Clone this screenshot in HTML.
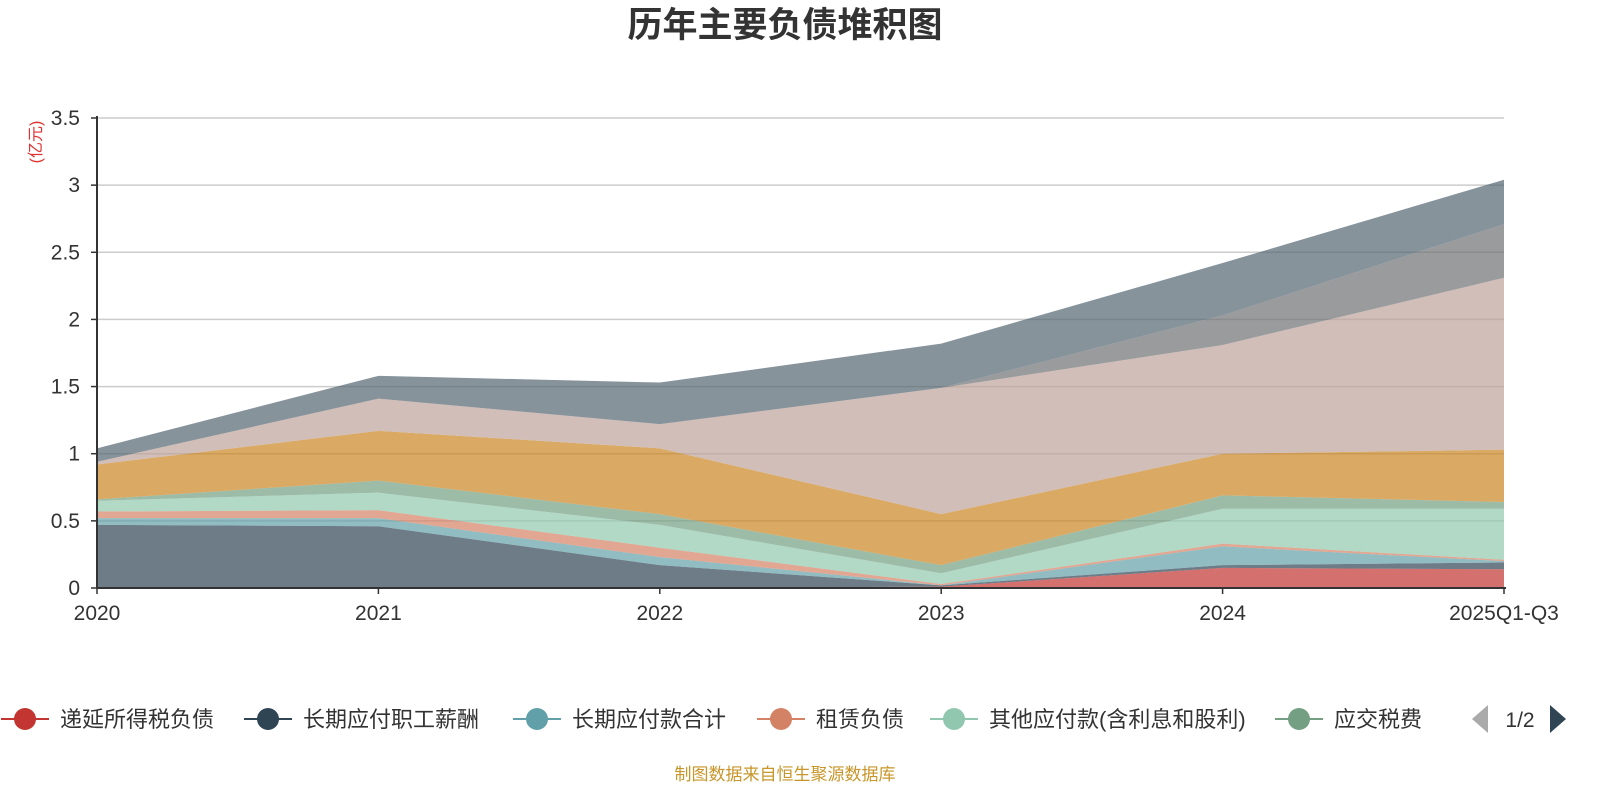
<!DOCTYPE html>
<html><head><meta charset="utf-8"><style>
body{margin:0;background:#fff;width:1600px;height:800px;overflow:hidden;font-family:"Liberation Sans","Noto Sans CJK SC",sans-serif}
</style></head><body>
<svg id="c" width="1600" height="800" xmlns="http://www.w3.org/2000/svg">
<text x="785" y="37" text-anchor="middle" font-size="35" font-weight="bold" fill="#333">历年主要负债堆积图</text>
<text transform="translate(41,142) rotate(-90)" text-anchor="middle" font-size="16" fill="#e03030">(亿元)</text>
<g id="grid"></g><g id="areas"></g><g id="axes"></g><g id="legend"></g>
<text x="785" y="780" text-anchor="middle" font-size="17" fill="#c8962a">制图数据来自恒生聚源数据库</text>
</svg>
<script>
const categories=["2020","2021","2022","2023","2024","2025Q1-Q3"];
const seriesNames=["递延所得税负债","长期应付职工薪酬","长期应付款合计","租赁负债","其他应付款(含利息和股利)","应交税费","应付账款","合同负债","短期借款","应付票据"];
const s0=[0,0,0,0.01,0.15,0.14];
const s1=[0.47,0.46,0.17,0.01,0.02,0.05];
const s2=[0.05,0.06,0.06,0,0.14,0.01];
const s3=[0.05,0.06,0.07,0.01,0.02,0.01];
const s4=[0.08,0.13,0.17,0.08,0.26,0.38];
const s5=[0.01,0.09,0.08,0.06,0.10,0.05];
const s6=[0.26,0.37,0.49,0.38,0.31,0.39];
const s7=[0.02,0.24,0.18,0.94,0.81,1.28];
const s8=[0,0,0,0,0.22,0.40];
const s9=[0.10,0.17,0.31,0.33,0.39,0.33];
const series=[s0,s1,s2,s3,s4,s5,s6,s7,s8,s9];
const colors=["#c23531","#2f4554","#61a0a8","#d48265","#91c7ae","#749f83","#ca8622","#bda29a","#6e7074","#546570"];
const yTicks=[0,0.5,1,1.5,2,2.5,3,3.5];
const yTickLabels=["0","0.5","1","1.5","2","2.5","3","3.5"];
const NS="http://www.w3.org/2000/svg";
const X0=97,X1=1504,Y0=588,YT=118,YMAX=3.5;
const xs=i=>X0+(X1-X0)*i/(categories.length-1);
const ys=v=>Y0-(Y0-YT)*v/YMAX;
function mk(t,a,p){const e=document.createElementNS(NS,t);for(const k in a)e.setAttribute(k,a[k]);p.appendChild(e);return e;}
const grid=document.getElementById('grid'),axes=document.getElementById('axes'),areas=document.getElementById('areas'),leg=document.getElementById('legend');
yTicks.forEach((v,i)=>{
 if(v>0){const l=mk('line',{x1:X0,x2:X1,y1:ys(v),y2:ys(v),stroke:'#ccc','stroke-width':1.5},grid);
 
 }
 const t=mk('text',{x:80,y:ys(v)+7,'text-anchor':'end','font-size':21,fill:'#333'},axes);t.textContent=yTickLabels[i];
 
 
 mk('line',{x1:91,x2:X0,y1:ys(v),y2:ys(v),stroke:'#333','stroke-width':1.5},axes);
});
let cum=categories.map(()=>0);
series.forEach((s,k)=>{
 const lo=cum.slice();const hi=cum.map((c,i)=>c+s[i]);
 let d='M'+hi.map((v,i)=>xs(i)+','+ys(v)).join('L');
 for(let i=lo.length-1;i>=0;i--)d+='L'+xs(i)+','+ys(lo[i]);
 const p=mk('path',{d:d+'Z',fill:colors[k],'fill-opacity':0.7},areas);
 
 
 cum=hi;
});
mk('line',{x1:X0,x2:X0,y1:YT-2,y2:Y0,stroke:'#333','stroke-width':2},axes);
mk('line',{x1:X0,x2:X1+2,y1:Y0,y2:Y0,stroke:'#333','stroke-width':2},axes);
categories.forEach((c,i)=>{
 mk('line',{x1:xs(i),x2:xs(i),y1:Y0,y2:Y0+6,stroke:'#333','stroke-width':1.5},axes);
 const t=mk('text',{x:xs(i),y:620,'text-anchor':'middle','font-size':21,fill:'#333'},axes);t.textContent=c;
 
 
});
const legX=[25,268,537,781,954,1299];
for(let k=0;k<6;k++){
 const g=mk('g',{},leg);
 
 
 mk('line',{x1:legX[k]-24,x2:legX[k]+24,y1:719,y2:719,stroke:colors[k],'stroke-width':2},g);
 mk('circle',{cx:legX[k],cy:719,r:11,fill:colors[k]},g);
 const t=mk('text',{x:legX[k]+35,y:727,'font-size':22,fill:'#333'},g);t.textContent=seriesNames[k];
}
const pl=mk('path',{d:'M1472,719 L1488,705 L1488,733 Z',fill:'#aaa'},leg);


const pt=mk('text',{x:1520,y:727,'text-anchor':'middle','font-size':21,fill:'#333'},leg);pt.textContent='1/2';


const pn=mk('path',{d:'M1566,719 L1550,705 L1550,733 Z',fill:'#2f4554'},leg);


</script>
</body></html>
